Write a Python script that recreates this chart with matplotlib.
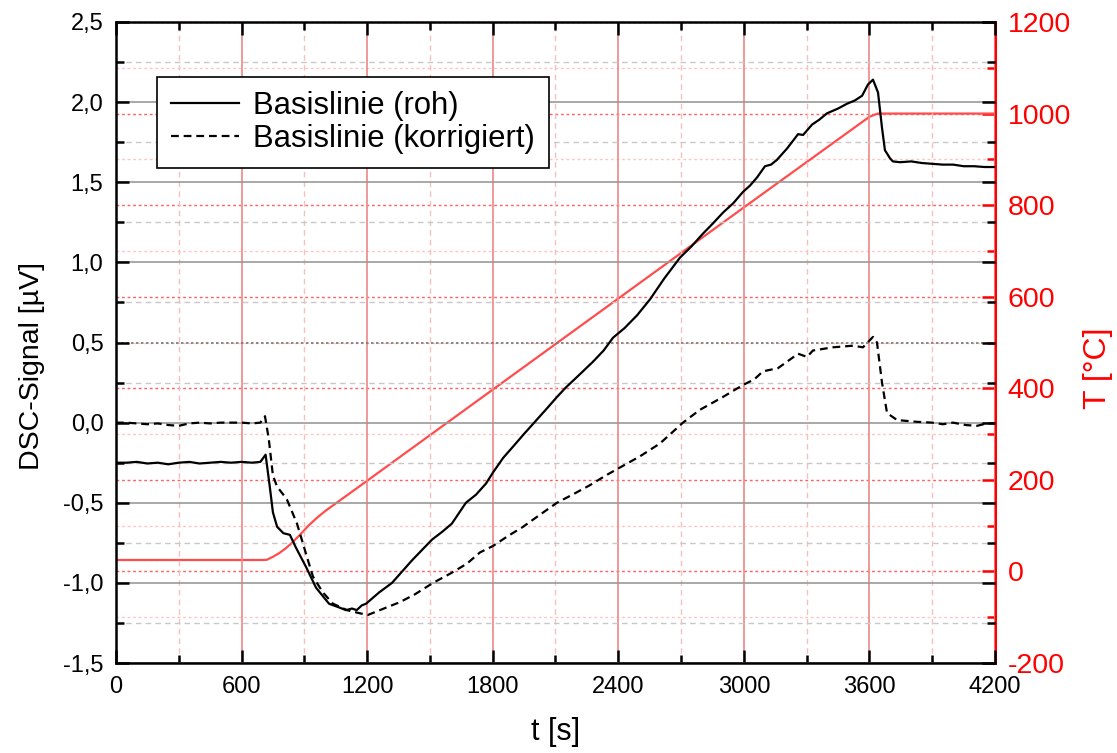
import matplotlib
matplotlib.use("Agg")
import matplotlib.pyplot as plt
from matplotlib.ticker import MultipleLocator, FuncFormatter

plt.rcParams['font.family'] = ['Liberation Sans', 'DejaVu Sans']

# Basislinie (roh) - t [s], DSC-Signal [µV]
t_roh = [0, 50, 100, 150, 200, 250, 300, 350, 400, 450, 500, 550, 600, 650, 690,
         715, 735, 750, 770, 800, 831, 860, 908, 956, 1018, 1070, 1099, 1128, 1150,
         1175, 1195, 1257, 1319, 1414, 1510, 1560, 1605, 1672, 1720, 1768, 1802,
         1850, 1897, 1950, 2012, 2060, 2107, 2150, 2203, 2279, 2330, 2375, 2430,
         2490, 2552, 2620, 2695, 2750, 2805, 2850, 2900, 2950, 2996, 3030, 3063,
         3101, 3130, 3158, 3206, 3259, 3283, 3326, 3360, 3397, 3450, 3493, 3530,
         3565, 3593, 3617, 3641, 3660, 3674, 3698, 3712, 3746, 3800, 3850, 3900,
         3950, 4000, 4050, 4100, 4150, 4200]
dsc_roh = [-0.25, -0.25, -0.245, -0.255, -0.25, -0.26, -0.25, -0.245, -0.255, -0.25,
           -0.245, -0.25, -0.245, -0.25, -0.245,
           -0.20, -0.40, -0.56, -0.65, -0.69, -0.70, -0.78, -0.90, -1.03, -1.13,
           -1.155, -1.17, -1.16, -1.17, -1.14, -1.13, -1.06, -1.00, -0.86, -0.73,
           -0.68, -0.63, -0.50, -0.45, -0.38, -0.31, -0.22, -0.15, -0.07, 0.02,
           0.09, 0.16, 0.22, 0.285, 0.38, 0.45, 0.53, 0.59, 0.67, 0.77, 0.90, 1.03,
           1.10, 1.18, 1.24, 1.31, 1.37, 1.44, 1.48, 1.53, 1.60, 1.61, 1.64, 1.71,
           1.80, 1.795, 1.86, 1.89, 1.93, 1.96, 1.99, 2.01, 2.04, 2.11, 2.14, 2.06,
           1.84, 1.70, 1.65, 1.63, 1.625, 1.63, 1.62, 1.615, 1.61, 1.61, 1.60, 1.60,
           1.595, 1.595]

# Basislinie (korrigiert)
t_korr = [0, 50, 100, 150, 200, 250, 300, 350, 400, 450, 500, 550, 600, 650, 690,
          712, 730, 750, 770, 800, 817, 865, 913, 941, 989, 1037, 1104, 1166, 1204,
          1261, 1357, 1430, 1515, 1600, 1677, 1739, 1801, 1870, 1945, 2020, 2107,
          2180, 2265, 2340, 2408, 2504, 2599, 2650, 2709, 2790, 2900, 2996, 3050,
          3091, 3163, 3206, 3259, 3302, 3330, 3426, 3521, 3569, 3617, 3636, 3660,
          3684, 3732, 3827, 3900, 3951, 3999, 4060, 4114, 4160, 4200]
dsc_korr = [0.0, 0.0, -0.005, -0.01, -0.005, -0.015, -0.02, -0.005, 0.0, -0.005,
            0.0, 0.0, 0.0, -0.005, 0.0,
            0.04, -0.10, -0.33, -0.40, -0.45, -0.48, -0.63, -0.84, -0.96, -1.06,
            -1.13, -1.17, -1.19, -1.20, -1.17, -1.12, -1.07, -1.00, -0.94, -0.88,
            -0.81, -0.77, -0.71, -0.65, -0.58, -0.50, -0.45, -0.39, -0.33, -0.28,
            -0.21, -0.13, -0.07, 0.0, 0.08, 0.16, 0.235, 0.27, 0.32, 0.34, 0.38,
            0.43, 0.41, 0.45, 0.47, 0.48, 0.47, 0.535, 0.50, 0.25, 0.06, 0.016,
            0.005, 0.0, -0.01, 0.0, -0.015, -0.02, -0.005, -0.005]

# Temperatur T [°C]
t_temp = [0, 700, 721, 750, 780, 810, 840, 879, 920, 960, 1000, 1200, 1800, 2400,
          3000, 3600, 3640, 4200]
temp = [25, 25, 25.5, 32, 40, 50, 62, 80, 100, 117, 132, 198, 397, 596, 795, 993,
        1000, 1000]

fig = plt.figure(figsize=(11.17, 7.53), dpi=100)
ax = fig.add_axes([0.1038, 0.1195, 0.7870, 0.8513])
ax2 = ax.twinx()
ax.set_zorder(ax2.get_zorder() + 1)
ax.patch.set_visible(False)

# Temperaturkurve
ax2.plot(t_temp, temp, color='#ff4d4d', lw=1.6)
ax2.set_ylim(-200, 1200)
ax2.yaxis.set_major_locator(MultipleLocator(200))
ax2.yaxis.set_minor_locator(MultipleLocator(100))
ax2.yaxis.set_major_formatter(FuncFormatter(lambda v, p: f"{v:.0f}"))
ax2.tick_params(axis='y', which='major', direction='in', length=9.5, width=1.8,
                colors='red', labelsize=20.5, pad=9)
ax2.tick_params(axis='y', which='minor', direction='in', length=5.5, width=1.8, colors='red')
ax2.grid(True, axis='y', which='major', color='#ff6060', ls=(0, (2, 2)), lw=1)
ax2.grid(True, axis='y', which='minor', color='#ffc4c4', ls=(0, (2, 2)), lw=1)
ax2.set_ylabel("T [°C]", color='red', fontsize=23)
ax2.yaxis.set_label_coords(1.100, 0.46)
for s in ['top', 'bottom', 'left']:
    ax2.spines[s].set_visible(False)
ax2.spines['right'].set_color('red')
ax2.spines['right'].set_linewidth(2.2)

# DSC-Kurven
ax.plot(t_roh, dsc_roh, color='black', lw=1.6, label='Basislinie (roh)')
ax.plot(t_korr, dsc_korr, color='black', lw=1.6, ls=(0, (3.5, 2.2)),
        label='Basislinie (korrigiert)')
ax.set_xlim(0, 4200)
ax.set_ylim(-1.5, 2.5)
ax.xaxis.set_major_locator(MultipleLocator(600))
ax.xaxis.set_minor_locator(MultipleLocator(300))
ax.yaxis.set_major_locator(MultipleLocator(0.5))
ax.yaxis.set_minor_locator(MultipleLocator(0.25))
ax.yaxis.set_major_formatter(FuncFormatter(lambda v, p: f"{v:.1f}".replace('.', ',')))
ax.tick_params(which='major', direction='in', length=9.5, width=1.8, labelsize=17,
               top=True, right=True, pad=9)
ax.tick_params(which='minor', direction='in', length=5.5, width=1.8, top=True, right=True)
ax.grid(True, axis='x', which='major', color='#ee8888', lw=1.2)
ax.grid(True, axis='x', which='minor', color='#f6c0c0', ls=(0, (4, 3)), lw=1)
ax.grid(True, axis='y', which='major', color='#999999', lw=1.2)
ax.grid(True, axis='y', which='minor', color='#c8c8c8', ls=(0, (4, 3)), lw=1)
# Linie bei 0,5 erscheint im Original gepunktet
for v, gl in zip(ax.get_yticks(), ax.get_ygridlines()):
    if abs(v - 0.5) < 1e-9:
        gl.set_linestyle((0, (1.5, 1.5)))
        gl.set_color('#777777')
ax.spines['right'].set_visible(False)
for s in ['top', 'bottom', 'left']:
    ax.spines[s].set_linewidth(1.8)
ax.set_xlabel("t [s]", fontsize=22, labelpad=14)
ax.set_ylabel("DSC-Signal [µV]", fontsize=20.5)
ax.yaxis.set_label_coords(-0.081, 0.463)

leg = ax.legend(loc='upper left', bbox_to_anchor=(0.0466, 0.914), fontsize=22.3,
                fancybox=False, framealpha=1, edgecolor='black', handlelength=2.2,
                borderpad=0.45, labelspacing=0.1, handletextpad=0.45, borderaxespad=0)
leg.get_frame().set_linewidth(1.2)

fig.savefig("out.png", dpi=100)
